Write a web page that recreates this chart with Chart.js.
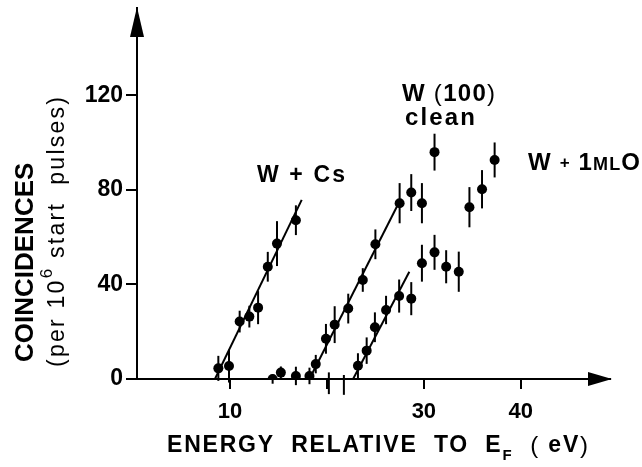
<!DOCTYPE html>
<html>
<head>
<meta charset="utf-8">
<script src="https://cdn.jsdelivr.net/npm/chart.js@4/dist/chart.umd.min.js"></script>
<style>
  html, body { margin: 0; padding: 0; background: #fff; }
  #wrap { width: 642px; height: 467px; position: relative; }
</style>
</head>
<body>
<div id="wrap"><canvas id="grafica" width="642" height="467"></canvas></div>
<script>
// datos (eV, cuentas por 10^6 pulsos)
const csX   = [8.8, 9.9, 11.0, 12.0, 12.9, 13.9, 14.85, 16.8];
const csY   = [4.5, 5.5, 24.3, 26.4, 30.2, 47.5, 57.3, 67.2];
const csErr = [5.3, 7, 4.6, 4.6, 7, 6.3, 9.5, 6.3];

const limpioX   = [14.4, 15.25, 16.8, 18.2, 18.85, 19.9, 20.8, 22.2, 23.7, 25.0, 27.5, 28.7, 29.8, 31.1];
const limpioY   = [0, 2.7, 1.3, 1.3, 6.3, 17, 23, 29.8, 41.9, 57, 74.4, 78.9, 74.4, 96];
const limpioErr = [2, 2.6, 3.9, 3.5, 3.9, 6.3, 7.8, 6.3, 5, 6.3, 8.5, 7.8, 8.5, 7.8];

const oxX   = [20.2, 21.75, 23.2, 24.1, 24.95, 26.1, 27.45, 28.7, 29.8, 31.1, 32.3, 33.6, 34.7, 36.0, 37.3];
const oxY   = [-1.8, -2.5, 5.6, 12, 21.9, 29.2, 35.1, 34, 49, 53.6, 47.5, 45.4, 72.7, 80.3, 92.7];
const oxErr = [4.6, 4.2, 5.3, 5.6, 6.3, 6, 7, 7, 7.8, 7.4, 7, 8.5, 8.5, 8.1, 7.4];

// rectas de ajuste (extremos)
const csAjusteX = [8.45, 17.4];
const csAjusteY = [0, 75.8];
const limpioAjusteX = [18.2, 27.25];
const limpioAjusteY = [0, 73.2];
const oxAjusteX = [22.7, 28.5];
const oxAjusteY = [0, 45.4];

const xTicks = [10, 20, 30, 40];
const xTickLabels = ["10", "", "30", "40"];
const yTicks = [0, 40, 80, 120];

const fuente = "'Liberation Sans', Arial, sans-serif";

function puntos(xs, ys){
    return xs.map((x, i) => ({x: x, y: ys[i]}));
}

function serie(label, xs, ys, errs){
    return {
        label: label,
        data: puntos(xs, ys),
        errores: errs,
        showLine: false,
        pointRadius: 5,
        pointHoverRadius: 5,
        pointBackgroundColor: "#000",
        pointBorderColor: "#000",
        pointBorderWidth: 0
    };
}

function recta(label, xs, ys){
    return {
        label: label,
        data: puntos(xs, ys),
        showLine: true,
        borderColor: "#000",
        borderWidth: 2,
        pointRadius: 0,
        fill: false
    };
}

// escribe varios trozos seguidos (linea base en y) repartiendo
// el espacio entre letras para que ocupen el ancho w
function tramo(ctx, trozos, x, y, w){
    ctx.letterSpacing = "0px";
    let suma = 0, letras = 0;
    trozos.forEach(t => {
        ctx.font = t.f;
        t.ancho = ctx.measureText(t.s).width;
        suma += t.ancho;
        letras += t.s.length;
    });
    const ls = Math.max(0, (w - suma) / (letras - 1));
    let px = x;
    trozos.forEach(t => {
        ctx.font = t.f;
        ctx.letterSpacing = ls + "px";
        ctx.fillText(t.s, px, y + (t.dy || 0));
        px += t.ancho + ls * t.s.length;
    });
    ctx.letterSpacing = "0px";
}

const pluginErrores = {
    id: "errores",
    afterDatasetsDraw(chart){
        const ctx = chart.ctx;
        const xs = chart.scales.x, ys = chart.scales.y;
        ctx.save();
        ctx.strokeStyle = "#000";
        ctx.lineWidth = 2;
        chart.data.datasets.forEach(ds => {
            if (!ds.errores) return;
            ds.data.forEach((p, i) => {
                const px = xs.getPixelForValue(p.x);
                ctx.beginPath();
                ctx.moveTo(px, ys.getPixelForValue(p.y - ds.errores[i]));
                ctx.lineTo(px, ys.getPixelForValue(p.y + ds.errores[i]));
                ctx.stroke();
            });
        });
        ctx.restore();
    }
};

const pluginEjes = {
    id: "ejes",
    afterDraw(chart){
        const ctx = chart.ctx;
        const a = chart.chartArea;
        ctx.save();
        ctx.fillStyle = "#000";
        // flecha eje x
        ctx.beginPath();
        ctx.moveTo(a.right + 2, a.bottom);
        ctx.lineTo(a.right - 22, a.bottom - 7);
        ctx.lineTo(a.right - 22, a.bottom + 7);
        ctx.closePath();
        ctx.fill();
        // flecha eje y
        ctx.beginPath();
        ctx.moveTo(a.left, a.top - 1);
        ctx.lineTo(a.left - 7, a.top + 29);
        ctx.lineTo(a.left + 7, a.top + 29);
        ctx.closePath();
        ctx.fill();

        ctx.textBaseline = "alphabetic";
        ctx.textAlign = "left";
        const b = (n) => "bold " + n + "px " + fuente;
        const r = (n) => n + "px " + fuente;

        // etiquetas de series
        tramo(ctx, [{s: "W + Cs", f: b(23)}], 257, 182, 88);
        tramo(ctx, [{s: "W ", f: b(24)}, {s: "(", f: r(24)}, {s: "100", f: b(24)}, {s: ")", f: r(24)}], 402, 101, 93);
        tramo(ctx, [{s: "clean", f: b(24)}], 405, 125, 70);
        tramo(ctx, [{s: "W ", f: b(24)}, {s: "+", f: b(17), dy: -2}, {s: " 1", f: b(24)}, {s: "ML", f: b(18)}, {s: "O", f: b(24)}], 528, 170, 112);

        // titulo eje x
        tramo(ctx, [
            {s: "ENERGY  RELATIVE  TO  E", f: b(23)},
            {s: "F", f: b(15), dy: 8},
            {s: "  (", f: r(24), dy: 1},
            {s: " eV", f: b(23)},
            {s: ")", f: r(24), dy: 1}
        ], 167, 452, 421);

        // titulo eje y
        ctx.save();
        ctx.translate(33, 362);
        ctx.rotate(-Math.PI / 2);
        tramo(ctx, [{s: "COINCIDENCES", f: b(26)}], 0, 0, 199);
        ctx.restore();

        ctx.save();
        ctx.translate(64, 367);
        ctx.rotate(-Math.PI / 2);
        tramo(ctx, [
            {s: "(per 10", f: r(23)},
            {s: "6", f: r(17), dy: -12},
            {s: " start  pulses)", f: r(23)}
        ], 0, 0, 270);
        ctx.restore();

        ctx.restore();
    }
};

const grafica = new Chart("grafica", {
    type: "scatter",
    data: {
        datasets: [
            serie("W + Cs", csX, csY, csErr),
            recta("W + Cs ajuste", csAjusteX, csAjusteY),
            serie("W(100) clean", limpioX, limpioY, limpioErr),
            recta("W(100) clean ajuste", limpioAjusteX, limpioAjusteY),
            serie("W + 1ML O", oxX, oxY, oxErr),
            recta("W + 1ML O ajuste", oxAjusteX, oxAjusteY)
        ]
    },
    plugins: [pluginErrores, pluginEjes],
    options: {
        responsive: false,
        animation: false,
        layout: { padding: { top: 8, right: 32, left: 0, bottom: 0 } },
        plugins: {
            legend: { display: false },
            tooltip: { enabled: false }
        },
        scales: {
            x: {
                type: "linear",
                min: 0.41,
                max: 49.2,
                afterFit: (s) => { s.height = 88; s.paddingLeft = 0; s.paddingRight = 0; },
                afterBuildTicks: (s) => { s.ticks = xTicks.map(v => ({value: v})); },
                border: { display: true, color: "#000", width: 2 },
                grid: { drawOnChartArea: false, drawTicks: true, tickLength: 10, color: "#000", lineWidth: 2 },
                ticks: {
                    color: "#000",
                    padding: 10,
                    maxRotation: 0,
                    font: { family: fuente, size: 22, weight: "bold" },
                    callback: (v) => xTickLabels[xTicks.indexOf(v)]
                }
            },
            y: {
                type: "linear",
                min: 0,
                max: 157,
                afterFit: (s) => { s.width = 137; s.paddingTop = 0; s.paddingBottom = 0; },
                afterBuildTicks: (s) => { s.ticks = yTicks.map(v => ({value: v})); },
                border: { display: true, color: "#000", width: 2 },
                grid: { drawOnChartArea: false, drawTicks: true, tickLength: 11, color: "#000", lineWidth: 2 },
                ticks: {
                    color: "#000",
                    padding: 3,
                    font: { family: fuente, size: 23, weight: "bold" }
                }
            }
        }
    }
});
</script>
</body>
</html>
